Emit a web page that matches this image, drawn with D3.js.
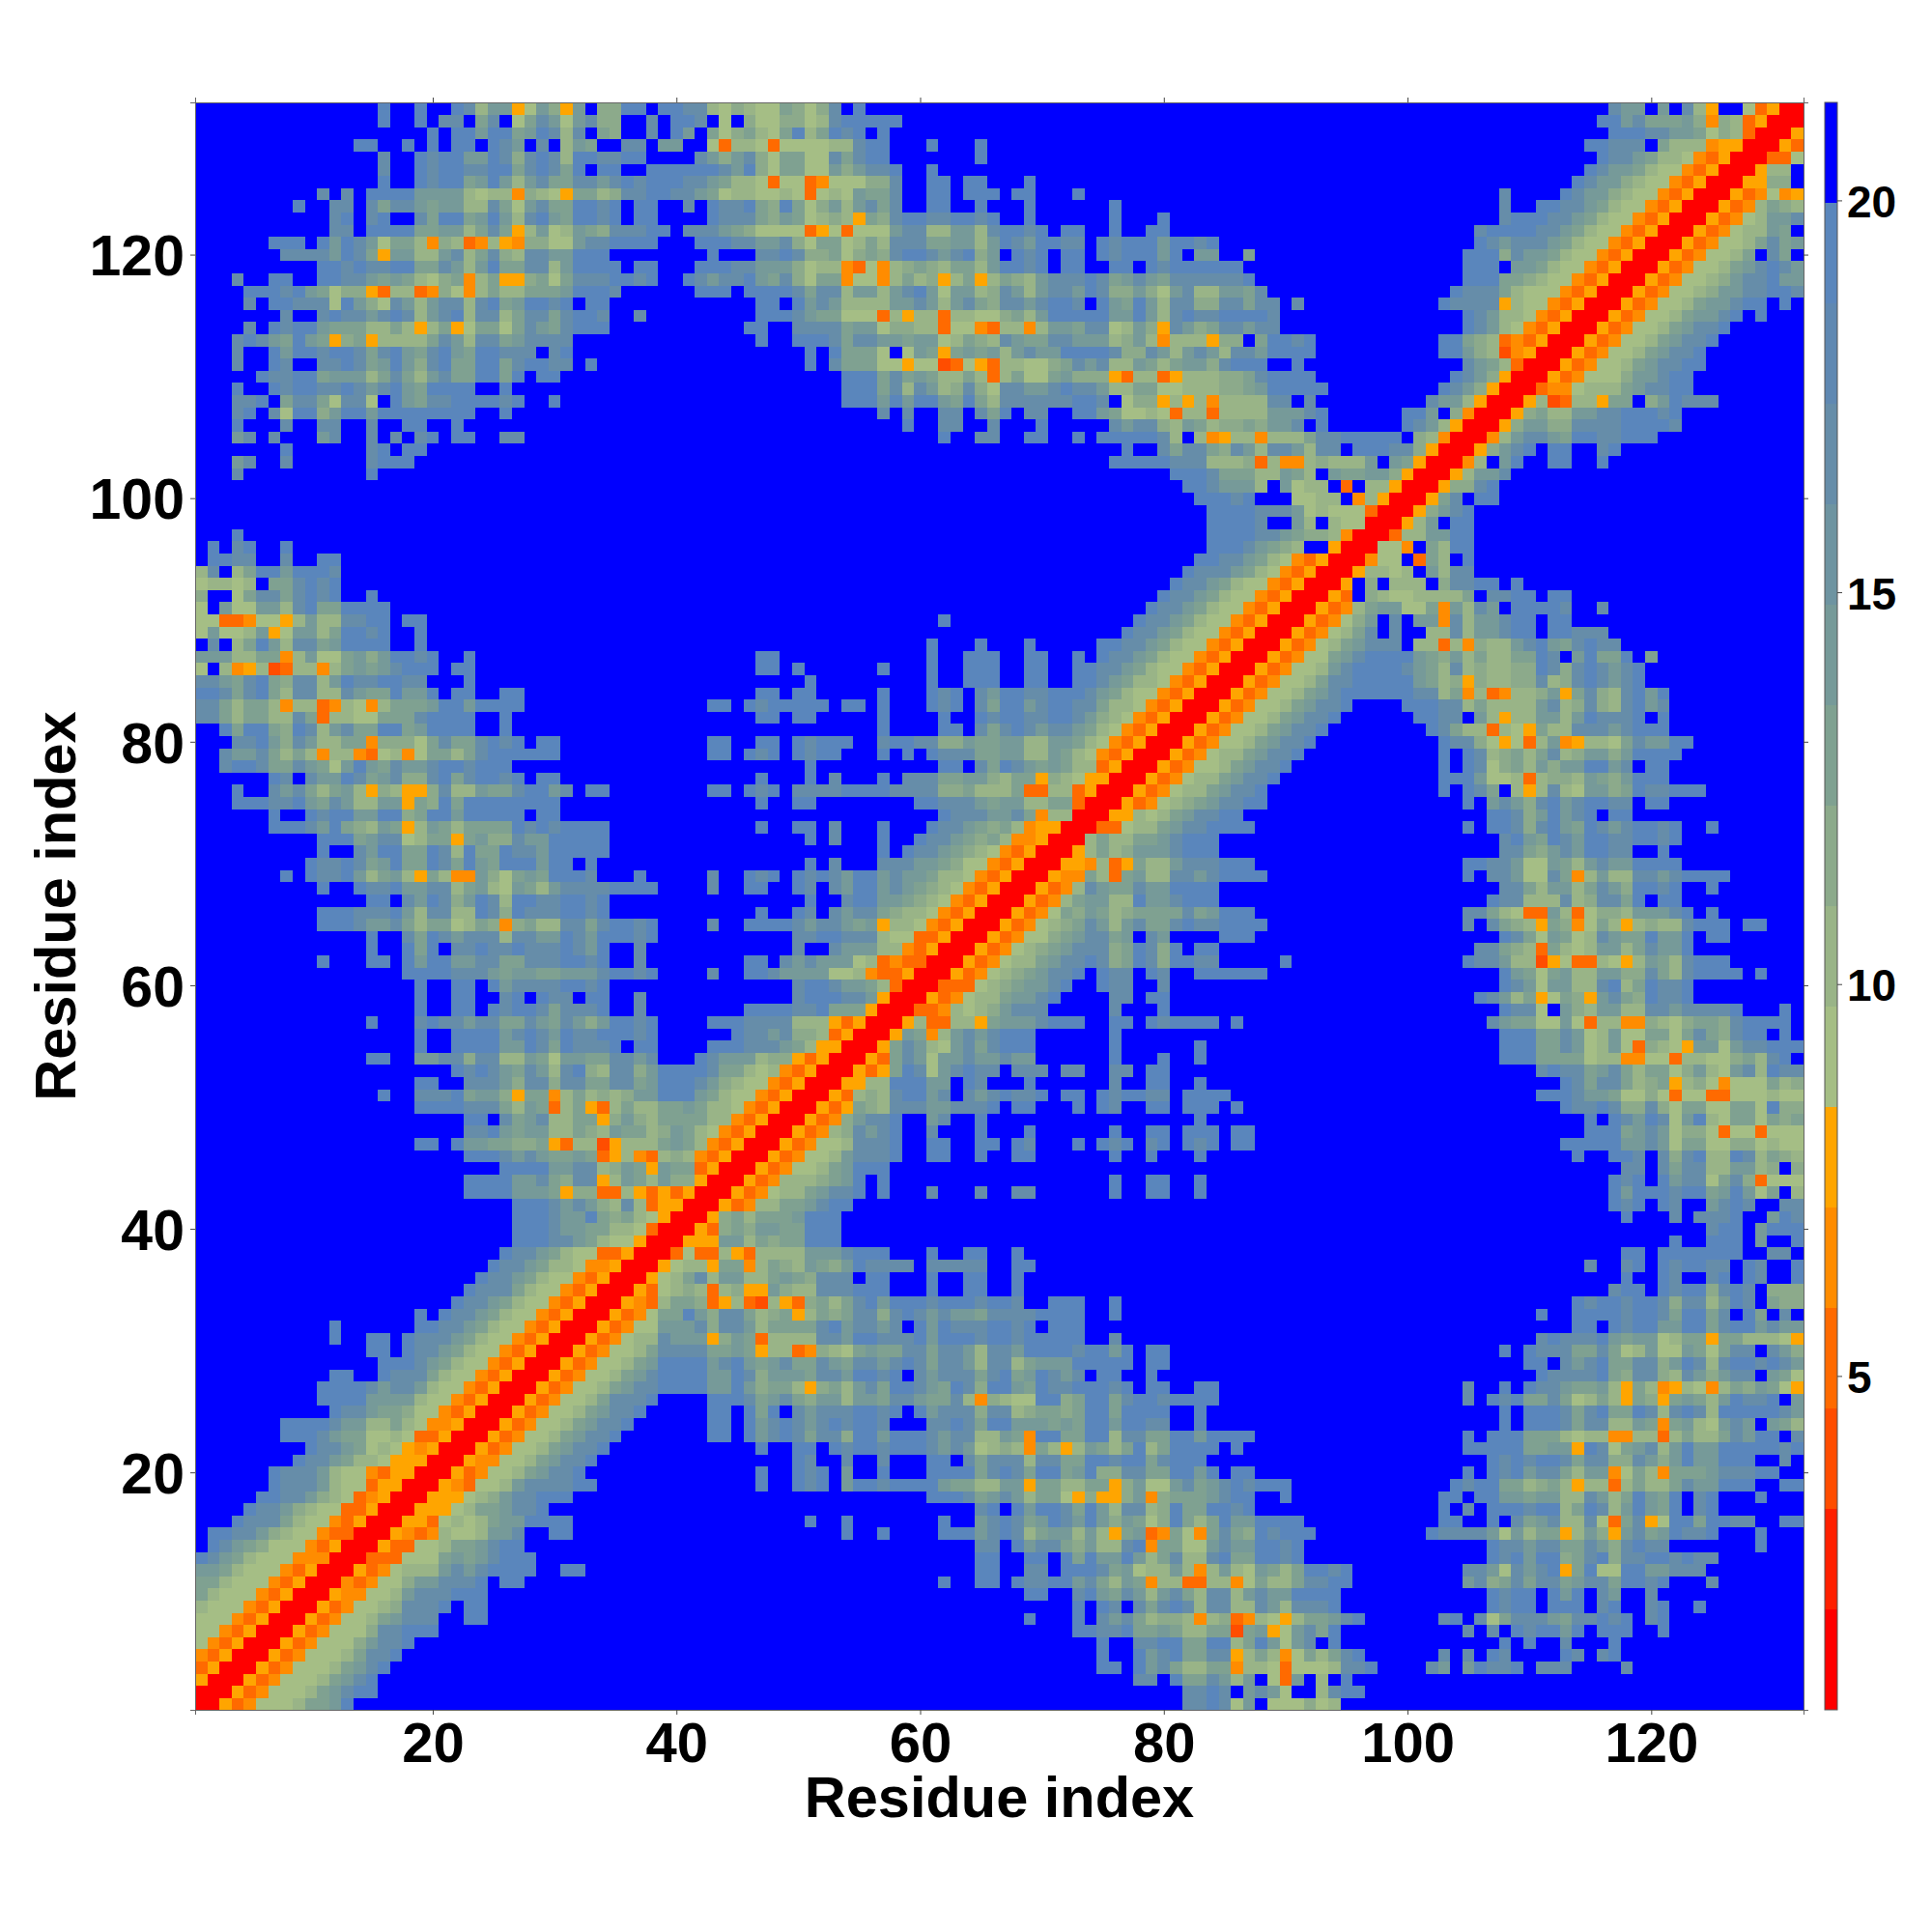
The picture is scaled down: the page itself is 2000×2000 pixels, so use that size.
<!DOCTYPE html>
<html><head><meta charset="utf-8">
<script src="https://cdn.jsdelivr.net/npm/d3@7"></script>
<style>html,body{margin:0;background:#fff}svg{display:block}text{font-family:"Liberation Sans",Arial,sans-serif;font-weight:bold;fill:#000}</style>
</head><body><div id="c"></div>
<script>
const nResidues = 132;
const axisTicks = [20,40,60,80,100,120];
const barTicks = [5,10,15,20];
const axisLabel = "Residue index";
const palette = ["#ff0000","#ff2000","#ff4d00","#ff6a00","#ff8c00","#ffa500","#a5be85","#99b487","#8caa8b","#7fa191","#769a99","#6e94a1","#668da9","#5f88b2","#5a86bc","#0000ff"];
const distanceRange = [0.74,21.25];
// estimated distance for each map code
const codeDistance = {"0":1.4,"2":3.9,"3":5.2,"4":6.5,"5":7.8,"6":9.1,"7":9.1,"8":10.3,"9":11.6,"a":12.9,"b":14.2,"c":16.8,"d":19.3,"e":19.5,".":21};
// upper triangle, rows y = 132 down to 1; each run is startColumn:codes, other cells are far apart (blue)
const rowRuns = [
"16:d 19:d 22:dc8bb57b95b.99dd.ddcc87 45:9877a979c.d 117:cbb.b.c85..73500",
"16:d 19:d 21:cc.ac.7acb7bc99..c.ddc.7 45:.9779978cddddd 116:ddbcaaab94983500",
"20:d.ddbddabdc8c.a9..c.db.a7 45:9a87ad8adcd.d 117:dddccbba798300",
"14:dd 18:d 20:d.dd.dcb.c.8ba..cc.bb..73 45:8873776788cdd 61:d 65:d 115:ddccc.a88845500",
"16:c 19:dcddbbdc9cdc8ddccdd....cb9 45:bc97aa77cacdd 65:d 116:dccba88743500",
"16:c 19:dcddccedacdcad.dd..ddddddc 45:bd97aa77b9bccd 61:d 115:dcbba87743500",
"16:d 19:dcddabdb8bcaaccbcdcdddccba 45:8873773477799c 61:dd 64:dd 69:d 114:dcbb987743500",
"11:c 13:c 15:ddddbbbb878849875aa89ccddccba7 45:8877873787baac 61:dd 64:ddd 68:dd 73:d 108:c 113:dcbb987743500",
"9:d 12:cc 15:caccbabb88ca7bcaaddcd.dd..c.dc 45:cda9da79b8bcac 61:dd 65:d 69:d 76:d 108:c 111:ddccba87743500",
"12:cd 15:cd..caddabdb8cdbaddcd.dd....dc 45:cca9ba78985a9cddccddcd 69:d 76:d 80:d 108:cdddccba87743500",
"12:cc 15:ddddaabb8aca58b78ba9cccdd.cccb 45:a977773573777bcc88bb8cddcd 72:dd 76:d 79:dd 106:cddddccba87743500",
"7:ddd 11:dbdcb7aa8498348549977bccdddd...ddd 45:ccbbc97aa78a8cccaabb8bdcbddcc.dcdddbddcd 106:dcbcccba87743500",
"8:ccccbdca5bb88bc8ac98ccbbddd 43:d 47:ccdc99a79a9cdecbcd9b.dcd.dd.dcdddbd.bb..a 105:ddd9cbba87743500",
"11:ddcdccddaacb8bdaacc8bdddd.dd 42:ddd 45:ccbbb9788437489a98aa8bddcd.dd..dd.dcdddddd 105:ddd.bba87743500",
"4:c 7:dd 11:ddccbaba879a48a559a7acccddcd 41:dcbc 45:cdbac97aa47748a8958a58a98bcccdcabcbacccccc 87:d 105:dddaa987743500",
"5:dddcdba7995388349748a88aaabdddc 42:ddd 45:.ddddcacc8bb8bcdb7bb89cb8bccbdc 76:99b97bc88bbac 104:dccca877743500",
"5:c.ddccc7db97cb8bcc8cdabddcd.dd 47:dd.dbcb8888bbcb8bca9ccbcddc.dbadb8cc99ccacc 91:c 103:dcccc587743500",
"8:c..cdccbcdc8bcd8cc8accacddc 37:c 47:dddcbaa777385883887 79a8bdddddbbdb8cdccddddc 105:dcb88743500",
"5:c 7:dcddbaaa88a858a57aa7acbacddd 46:dd..ccccabb79988377438848bbacc78b95cb9accbcc 105:dcb8743500",
"4:cdcbadba59a58888acb8ccabcccc 47:d..dddcaccbbabb78a98cbaaccbbb89b84888599.a 89:ddcd 103:dda98343500",
"4:c 7:dbddcddcacdbacdbaddccc.cd 51:d.daaa7.7ba5abab8bcbbddddc99cb8bcb8ccbc 89:dddd 103:ddb9824500",
"4:c 7:dc..ccdcabdb9cdaaddacddcc 33:d 51:d.caaa775772375388779acbc88ba8abb9cddd 91:d 105:cba8300",
"6:dccddabbb8aca8bcaadda d 29:dd 54:dddacaba88a838a77ab99953883588899ac 89:dddd 104:dcb9500",
"4:d 7:dcddccdcbcdbadddd 26:d 54:dddac8cb89c97ccbbcdccb88aa7788899ab 89:ddddd 103:dcb9500",
"4:ccd.acca7cc7.dbaccddddcd 30:d 54:dddbdbddbada8ccccccddc.799585848888 89:cc.c 102:cbb8500",
"4:cd 7:c7dd9bddbdddddddd 26:d 57:c.c..cc.cad.cc..ddba778738838888 89:bbbcd 100:ddb.9400",
"4:d 8:c 11:cc 15:c 18:dd 22:d 59:d 62:cc 66:c 70:d 76:cbcc98ba899a9 89:bbc.d 100:dcb8500",
"4:bc 7:c 11:bc 15:c 17:c 19:cd 22:dd 26:cc 62:d 65:cc 69:dd 73:d 75:dddddc8.845884 89:888accddeed.98400",
"8:d 15:cd 18:dd 77:d 80:cacca9cb8 89:ccb8cc.dddcc9500",
"4:bc 8:c 15:cddd 76:dddddccc88893 89:84489888b.ba500",
"4:c 15:d 81:dddcaaa8 89:8ba8.baabb9500",
"82:ddcbbb8 89:.b788.3.88500",
"83:dddcd 89:..7788.48500",
"84:ddddc 89:ccb78777300",
"84:ddddc 89:..b8.87700",
"4:d 84:ddddc 89:cba998400",
"2:d 4:cd 8:d 84:dddcb 89:a98..500",
"2:ddcc 8:c 11:dd 83:ddccba 89:8743500",
"1:8c.8addbdddc 82:dcccba8 89:743500",
"1:78878.aacdcd 81:dccba877 89:43500",
"1:9..7accacdcd 15:d 80:dccba8774 89:3500",
"1:7.b77bb8cdaadddd 79:dccba87743500",
"1:773347758b88ccdd 18:dd 62:d 78:dccba87743500",
"1:7b778b57bb8addcd 19:d 77:dccba87743500",
"2:c 4:8adb8ccabdddd 19:d 61:d 65:d 69:d 75:ddccba87743500",
"1:bbb88aa48b77ab9bddcd 23:d 47:dd 61:d 64:ddd 69:dd 73:d 75:dccba87743500",
"1:7.8458238848ababcddd 22:dd 47:dd.d 57:d 61:d 64:ddd 69:dd 73:ddccba87743500",
"1:ccbacda9cc8bdccddcc 23:d 51:d 61:d 64:ddd 69:dd 73:ddcba88743500",
"1:ddcacda8cc88cbaadbbd 22:dd 26:dd 47:dd 50:dd 57:d 61:dcd 65:cbddccdddcba87743500",
"1:cca8aa8488348748aaabddbdddd 43:dd 46:dcddddd.dd 57:d 61:dcd 65:caddbcddcca88743500",
"1:cca8aa88ca38877aaacdddd 26:d 47:dd 50:dd 57:d 62:d 65:dcddccddcb98743500",
"3:daddа9dc8bcaaddabdddd 26:d 57:d 62:dd 65:cacdcbccba8743500".replace("а","a"),
"4:ccdb9cb88aa49997acaacdcd.dd 43:dd 47:dd 50:dcddd 57:cddcc99baabb88bba8743500",
"3:cbbca8a8488437847aa8acdddddd 43:dd 46:dcd 50:dcdd 57:d 59:d 61:dcccaabb88ba8743500",
"3:cddcaacba7bdbacbbcddcddd 51:d 62:dd 65:cadcbaba883500",
"7:dc.cbbdcabc99cdacddcd.dd 47:d 51:d 53:c 57:d 59:cccaabb98aa59875500",
"4:d 7:cbca8ab8598559c88baacddbc 33:dd 43:dd 46:dcd 50:ccccddddcccc99a888a33883500",
"4:ddd 7:ccdbacb88bb5a9dadddddddd 47:d 50:dd 60:ddcccbabb88aa300",
"7:d 10:dcddbbdd9addbddddd.dd 62:dcccbbca48800",
"7:dddcbda98ba58ba8aaaadcdcdddd 47:d 50:dd 53:c 57:d 61:dccba9a845500",
"11:dddabcc78aa5ab99cbbddddd 51:d 53:c 57:d 60:dccba9a844500",
"11:d..cbedaadc8daadccbddddd 57:d 59:dccba98743500",
"10:dccdcabdaadcadbadddbdd.d 51:d 53:c 57:cccbba97743500",
"8:d 10:dccdb8ab85a844b97abadddc 37:d 43:c 46:dcd 50:dcdcbddbcbba88743500",
"11:d 14:dccdbbcc8ab87ba8bccccdddd 43:c 46:dd 50:dc 53:cbddbcba98743500",
"15:dd.cbdc9bdc8deccddcd 51:d 54:cddbba98743500",
"11:dddcccdb8cc88dc9dcccddcd 47:d 50:dc 53:cbcca988743500",
"11:dddcbbca8aa78a949a88ccacddcd 43:c 46:ddddcbccbab588743500",
"15:d 18:cadcbccc8ccbbdcbdddcd 50:ccddccc87733500",
"15:d 18:dad.ccdccdcccdcbd 37:c 50:c 53:cbbb8843500",
"11:d 15:dd 18:dbddbbccaacccddcd 37:c 46:dd 49:cbcbbb78343300",
"18:ddddcccbabbaabbbcddcd 43:c 46:ddcbbbb778433500",
"19:d 22:dd 25:dbccccddcd 50:cddcbba8300",
"19:d 22:dd 26:cd.dcc.dd 37:c 50:cdddccb500",
"19:d 22:dd 25:dcddcacccd 37:c 46:ddddccdaaa500",
"15:d 19:cdccbccaacbacb9bddcd 43:dd 45:dcccc88853500",
"19:d 22:ddddbcdcbdccdddcd 45:dccbc9983500",
"19:d 22:ddddbbdcadcccd.dd 43:dd 45:dcccba85500",
"15:dd 19:bbcc9cc88ba7bbaaccbc 42:dcb 45:bb89953500",
"22:dcdcbacb8cd98cc9bddddca 45:a87843500",
"19:dd 23:cccb9cc9ccaaccabdddcb9 45:87743500",
"16:d 19:cccdabb95aa48a8989bbdddba8 45:7743500",
"19:ddddccca8ba38a538a88aaba88 45:743500",
"23:dd.cabc88aa59b98aaaa887 45:43500",
"23:ccdbabb88a98baa89ba874 45:3500",
"19:dd 22:dbbaa99a5388258 88aba843 45:500",
"23:dddcbcbaaba358438984350 0",
"26:ddddbbcc89ba5baa3500",
"23:ddddbbca9cc58ba8b99500",
"23:ddddbbba5993385353500",
"27:dddcbcb98c835500",
"27:dddcbbda9a87500",
"27:dddcbbaa887300",
"27:dddccba877500",
"26:dccba87733500",
"25:dccba88744500",
"24:dccba87743500",
"23:dccca87743500",
"22:dccba87743500",
"19:d.dccba87743500",
"12:d 19:ddccba87743500",
"12:d 15:dd 18:dcccba87743500",
"15:dd 18:dccba87743500",
"16:dddcba87743500",
"12:dd 16:dccca87743500",
"11:ddddcbccb87743500",
"11:ddddbbbb87743500",
"12:dccbaa97743500",
"8:ddddcbb88a8744500",
"8:dddcbaa778733500",
"10:dccba7875 4500",
"9:dccba88755500",
"7:dcccb87743 5500",
"7:dcccb8773 5500",
"6:ddccb9873 4500",
"5:dccb987733500",
"4:dccca87743500",
"2:ddccb987743300",
"2:dcba977743500",
"1:dcba877744400",
"1:bba877743500",
"1:aa877743500",
"1:a877743500",
"1:877743500",
"1:77743500",
"1:7743500",
"1:743500",
"1:43500",
"1:3500",
"1:500",
"1:00",
"1:0"
];

function parseRow(str) {
  const cells = new Map();
  let col = null;
  for (const tok of str.split(" ")) {
    let body = tok;
    const m = tok.match(/^(\d+):(.*)$/);
    if (m) { col = +m[1]; body = m[2]; }
    for (const ch of body) { cells.set(col, ch); col++; }
  }
  return cells;
}
const distance = d3.range(nResidues + 1).map(() => new Array(nResidues + 1).fill(codeDistance["."]));
rowRuns.forEach((str, i) => {
  const y = nResidues - i;
  parseRow(str).forEach((ch, x) => {
    if (x <= y) { distance[y][x] = codeDistance[ch]; distance[x][y] = codeDistance[ch]; }
  });
});
const cells = [];
for (let y = 1; y <= nResidues; y++) for (let x = 1; x <= nResidues; x++) cells.push({x, y, v: distance[y][x]});

const W = 2000, H = 2000;
const margin = {left: 202, right: 1867, top: 106, bottom: 1770};
const x = d3.scaleLinear().domain([0.5, nResidues + 0.5]).range([margin.left, margin.right]);
const y = d3.scaleLinear().domain([0.5, nResidues + 0.5]).range([margin.bottom, margin.top]);
const colour = d3.scaleQuantize().domain(distanceRange).range(palette);

const svg = d3.select("#c").append("svg").attr("width", W).attr("height", H).attr("viewBox", `0 0 ${W} ${H}`);
svg.append("g").attr("shape-rendering", "crispEdges").selectAll("rect").data(cells).join("rect")
  .attr("x", d => x(d.x - 0.5)).attr("y", d => y(d.y + 0.5))
  .attr("width", x(1.5) - x(0.5) + 0.5).attr("height", y(0.5) - y(1.5) + 0.5)
  .attr("fill", d => colour(d.v));

const frame = "#666";
function styleAxis(g, size) {
  g.select(".domain").attr("stroke", frame);
  g.selectAll(".tick line").attr("stroke", "#444");
  g.selectAll("text").attr("font-size", size).attr("font-weight", "bold").attr("fill", "#000").attr("font-family", '"Liberation Sans",Arial,sans-serif');
}
const gB = svg.append("g").attr("transform", `translate(0,${margin.bottom})`)
  .call(d3.axisBottom(x).tickValues(axisTicks).tickSize(5).tickPadding(8));
styleAxis(gB, 58);
gB.selectAll("text").attr("dy", "0.71em");
const gL = svg.append("g").attr("transform", `translate(${margin.left},0)`)
  .call(d3.axisLeft(y).tickValues(axisTicks).tickSize(5).tickPadding(6));
styleAxis(gL, 59);
gL.selectAll("text").attr("dy", "0.36em");
const gT = svg.append("g").attr("transform", `translate(0,${margin.top})`)
  .call(d3.axisTop(x).tickValues(axisTicks).tickSize(5).tickFormat(""));
styleAxis(gT, 58);
const gR = svg.append("g").attr("transform", `translate(${margin.right},0)`)
  .call(d3.axisRight(y).tickValues(axisTicks).tickSize(5).tickFormat(""));
styleAxis(gR, 58);

svg.append("text").attr("x", (margin.left + margin.right) / 2).attr("y", 1881).attr("text-anchor", "middle").attr("font-size", 59.5).text(axisLabel);
svg.append("text").attr("transform", `translate(78,${(margin.top + margin.bottom) / 2}) rotate(-90)`).attr("text-anchor", "middle").attr("font-size", 59.5).text(axisLabel);

// colour bar
const barX0 = 1889, barX1 = 1902;
const barY = d3.scaleLinear().domain(distanceRange).range([margin.bottom, margin.top]);
const binEdges = colour.thresholds();
const bins = palette.map((c, i) => ({c, lo: i === 0 ? distanceRange[0] : binEdges[i - 1], hi: i === palette.length - 1 ? distanceRange[1] : binEdges[i]}));
svg.append("g").attr("shape-rendering", "crispEdges").selectAll("rect").data(bins).join("rect")
  .attr("x", barX0).attr("width", barX1 - barX0)
  .attr("y", d => barY(d.hi)).attr("height", d => barY(d.lo) - barY(d.hi))
  .attr("fill", d => d.c);
svg.append("rect").attr("x", barX0).attr("y", margin.top).attr("width", barX1 - barX0).attr("height", margin.bottom - margin.top)
  .attr("fill", "none").attr("stroke", "#555").attr("stroke-width", 1);
const gC = svg.append("g").attr("transform", `translate(${barX1},0)`)
  .call(d3.axisRight(barY).tickValues(barTicks).tickSize(5).tickPadding(5));
styleAxis(gC, 46);
gC.selectAll("text").attr("dy", "0.37em");
gC.select(".domain").remove();
</script></body></html>
